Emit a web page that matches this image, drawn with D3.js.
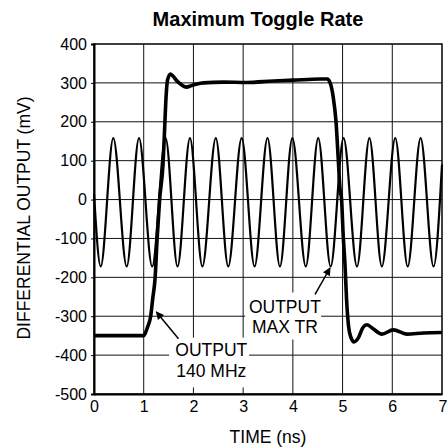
<!DOCTYPE html>
<html>
<head>
<meta charset="utf-8">
<title>Maximum Toggle Rate</title>
<script src="https://d3js.org/d3.v7.min.js"></script>
<style>
  body { margin: 0; background: #fff; }
  text { font-family: "Liberation Sans", Arial, sans-serif; fill: #000; }
</style>
</head>
<body>
<svg id="chart"></svg>
<script>
// tick values
const xTicks = [0, 1, 2, 3, 4, 5, 6, 7];
const yTicks = [-500, -400, -300, -200, -100, 0, 100, 200, 300, 400];

// OUTPUT 140 MHz trace (time ns, mV)
const slowT = [0, 1.0, 1.03, 1.08, 1.14, 1.18, 1.23, 1.27, 1.32, 1.39, 1.42, 1.45, 1.48, 1.54, 1.6, 1.66, 1.76, 1.86, 1.96, 2.07, 2.2, 2.6, 3.07, 3.61, 4.0, 4.55, 4.69, 4.75, 4.81, 4.87, 4.91, 4.95, 4.98, 5.01, 5.05, 5.08, 5.12, 5.17, 5.23, 5.32, 5.41, 5.49, 5.62, 5.79, 6.02, 6.29, 6.63, 7.0];
const slowV = [-350, -350, -344, -327, -300, -256, -200, -100, 0, 94, 180, 265, 308, 323, 316, 306, 295, 289, 293, 297, 300, 302, 301, 305, 307, 310, 310, 300, 265, 197, 111, 26, 0, -85, -171, -256, -325, -355, -366, -355, -329, -322, -333, -346, -335, -346, -343, -342];

// OUTPUT MAX TR trace: peaks and troughs (time ns, mV)
const fastT = [0, 0.135, 0.388, 0.658, 0.905, 1.17, 1.44, 1.68, 1.93, 2.18, 2.45, 2.70, 2.97, 3.23, 3.49, 3.74, 3.99, 4.26, 4.51, 4.76, 5.02, 5.29, 5.54, 5.79, 6.06, 6.31, 6.57, 6.83, 7.0];
const fastV = [15, -172, 158, -172, 158, -172, 158, -172, 158, -172, 158, -172, 158, -172, 158, -172, 158, -172, 158, -172, 158, -172, 158, -172, 158, -172, 158, -172, 90];

const W = 448, H = 448;
const margin = {top: 44, right: 6, bottom: 54, left: 94};
const width = W - margin.left - margin.right;
const height = H - margin.top - margin.bottom;

const svg = d3.select("#chart").attr("width", W).attr("height", H);
const g = svg.append("g").attr("transform", `translate(${margin.left},${margin.top})`);

const x = d3.scaleLinear().domain([0, 7]).range([0, width]);
const y = d3.scaleLinear().domain([-500, 400]).range([height, 0]);

// grid
g.append("g").selectAll("line").data(xTicks.slice(1, -1)).join("line")
  .attr("x1", d => x(d)).attr("x2", d => x(d))
  .attr("y1", 0).attr("y2", height)
  .attr("stroke", "#111").attr("stroke-width", 1);
g.append("g").selectAll("line").data(yTicks.slice(1, -1)).join("line")
  .attr("x1", 0).attr("x2", width)
  .attr("y1", d => y(d)).attr("y2", d => y(d))
  .attr("stroke", "#111").attr("stroke-width", 1);

// annotation boxes hide grid behind the labels
const boxes = [
  {t0: 1.51, t1: 3.12, v0: -355, v1: -483},
  {t0: 3.04, t1: 4.57, v0: -239, v1: -360}
];
g.append("g").selectAll("rect").data(boxes).join("rect")
  .attr("x", d => x(d.t0)).attr("width", d => x(d.t1) - x(d.t0))
  .attr("y", d => y(d.v0)).attr("height", d => y(d.v1) - y(d.v0))
  .attr("fill", "#fff");

// frame
g.append("rect").attr("width", width).attr("height", height)
  .attr("fill", "none").attr("stroke", "#000").attr("stroke-width", 1.5);

// axes
const fmt = d => String(d);
const yAxis = g.append("g")
  .call(d3.axisLeft(y).tickValues(yTicks).tickSize(3).tickPadding(4).tickFormat(fmt));
const xAxis = g.append("g").attr("transform", `translate(0,${height})`)
  .call(d3.axisBottom(x).tickValues(xTicks).tickSize(0).tickPadding(7).tickFormat(fmt));
[xAxis, yAxis].forEach(a => {
  a.select(".domain").attr("stroke", "#000").attr("stroke-width", 2);
  a.selectAll(".tick line").attr("stroke", "#000").attr("stroke-width", 1);
  a.selectAll("text").style("font-size", "16px")
    .style("font-family", '"Liberation Sans", Arial, sans-serif');
});
xAxis.selectAll(".tick:last-of-type text").attr("text-anchor", "end").attr("dx", "0.3em");

// traces
const line = d3.line().x(d => x(d[0])).y(d => y(d[1])).curve(d3.curveMonotoneX);
g.append("path").datum(fastT.map((t, i) => [t, fastV[i]]))
  .attr("d", line).attr("fill", "none").attr("stroke", "#000")
  .attr("stroke-width", 2.2).attr("stroke-linejoin", "round");
g.append("path").datum(slowT.map((t, i) => [t, slowV[i]]))
  .attr("d", line).attr("fill", "none").attr("stroke", "#000")
  .attr("stroke-width", 3.6).attr("stroke-linejoin", "round");

// arrows
svg.append("defs").append("marker")
  .attr("id", "head").attr("viewBox", "0 0 10 10")
  .attr("refX", 9).attr("refY", 5)
  .attr("markerWidth", 10).attr("markerHeight", 8)
  .attr("markerUnits", "userSpaceOnUse")
  .attr("orient", "auto")
  .append("path").attr("d", "M0,0 L10,5 L0,10 z").attr("fill", "#000");

const arrows = [
  {t0: 1.70, v0: -358, t1: 1.255, v1: -289},
  {t0: 4.446, v0: -244, t1: 4.748, v1: -176}
];
g.append("g").selectAll("line").data(arrows).join("line")
  .attr("x1", d => x(d.t0)).attr("y1", d => y(d.v0))
  .attr("x2", d => x(d.t1)).attr("y2", d => y(d.v1))
  .attr("stroke", "#000").attr("stroke-width", 1.5)
  .attr("marker-end", "url(#head)");

// labels
const labels = [
  {t: 2.36, v: -403, s: "OUTPUT"},
  {t: 2.36, v: -456, s: "140 MHz"},
  {t: 3.84, v: -291, s: "OUTPUT"},
  {t: 3.84, v: -343, s: "MAX TR"}
];
g.append("g").selectAll("text").data(labels).join("text")
  .attr("x", d => x(d.t)).attr("y", d => y(d.v))
  .attr("text-anchor", "middle").style("font-size", "17.5px")
  .text(d => d.s);

// titles
svg.append("text").attr("x", 258).attr("y", 26)
  .attr("text-anchor", "middle").style("font-size", "20px").style("font-weight", "bold")
  .text("Maximum Toggle Rate");
svg.append("text").attr("x", 268).attr("y", 443)
  .attr("text-anchor", "middle").style("font-size", "17.5px")
  .text("TIME (ns)");
svg.append("text")
  .attr("transform", "translate(30,218) rotate(-90)")
  .attr("text-anchor", "middle").style("font-size", "17.5px")
  .text("DIFFERENTIAL OUTPUT (mV)");
</script>
</body>
</html>
